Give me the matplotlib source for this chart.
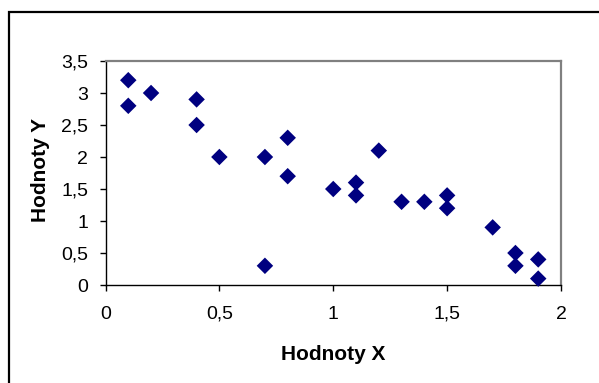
import matplotlib.pyplot as plt
from matplotlib.patches import Rectangle
from matplotlib.ticker import FuncFormatter

plt.rcParams['font.family'] = ['Liberation Sans', 'DejaVu Sans']

x_vals = [0.1, 0.1, 0.2, 0.4, 0.4, 0.5, 0.7, 0.7, 0.8, 0.8, 1.0, 1.1,
          1.1, 1.2, 1.3, 1.4, 1.5, 1.5, 1.7, 1.8, 1.8, 1.9, 1.9]
y_vals = [3.2, 2.8, 3.0, 2.9, 2.5, 2.0, 2.0, 0.3, 2.3, 1.7, 1.5, 1.6,
          1.4, 2.1, 1.3, 1.3, 1.4, 1.2, 0.9, 0.5, 0.3, 0.4, 0.1]
x_ticks = [0, 0.5, 1, 1.5, 2]
y_ticks = [0, 0.5, 1, 1.5, 2, 2.5, 3, 3.5]


def comma(v, pos):
    s = ('%g' % v)
    return s.replace('.', ',')


fig = plt.figure(figsize=(5.99, 3.83), dpi=100)
# outer frame of the chart object
fig.patches.append(Rectangle((8.5 / 599, -0.05), 1.2, 1 - 12.5 / 383 + 0.05,
                             transform=fig.transFigure, fill=False,
                             edgecolor='black', linewidth=1.6))

ax = fig.add_axes([105.5 / 599, 1 - 285 / 383, (561 - 105.5) / 599, (285 - 61) / 383])
ax.scatter(x_vals, y_vals, marker='D', s=8.4 ** 2, color='#000080',
           edgecolors='none', zorder=3, clip_on=False)

ax.set_xlim(0, 2)
ax.set_ylim(0, 3.5)
ax.set_xticks(x_ticks)
ax.set_yticks(y_ticks)
ax.xaxis.set_major_formatter(FuncFormatter(comma))
ax.yaxis.set_major_formatter(FuncFormatter(comma))
ax.tick_params(direction='out', length=4.5, width=1, labelsize=14)
ax.tick_params(axis='y', pad=8)
ax.tick_params(axis='x', pad=10.5)

for side in ('top', 'right'):
    ax.spines[side].set_color('#808080')
    ax.spines[side].set_linewidth(1.6)
for side in ('left', 'bottom'):
    ax.spines[side].set_color('black')
    ax.spines[side].set_linewidth(1.0)

fig.text(333 / 599, 1 - 355 / 383, 'Hodnoty X', ha='center', va='center',
         fontsize=15, fontweight='bold')
fig.text(40.5 / 599, 1 - 170 / 383, 'Hodnoty Y', ha='center', va='center',
         rotation=90, fontsize=15, fontweight='bold')

fig.savefig('out.png', dpi=100)
